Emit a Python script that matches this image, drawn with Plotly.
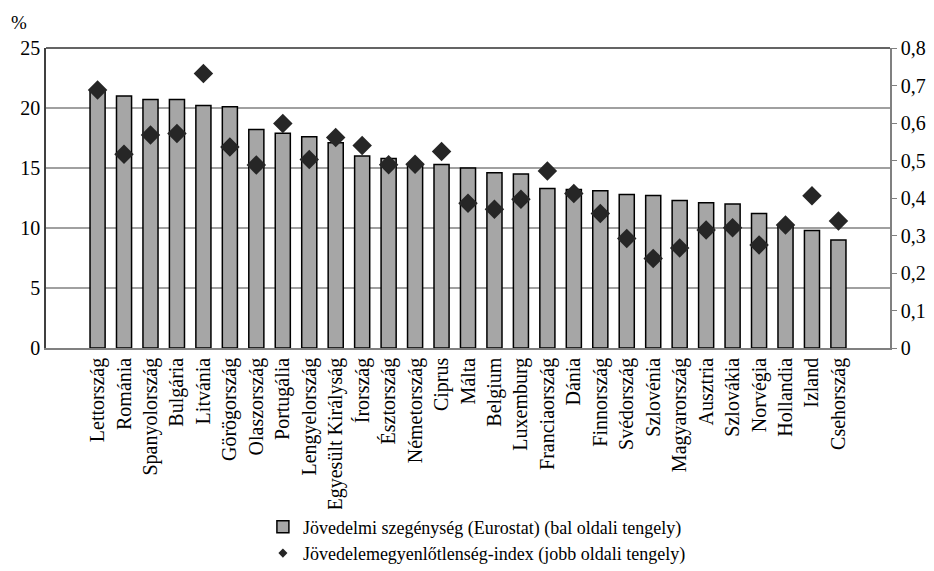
import plotly.graph_objects as go

countries = ["Lettország", "Románia", "Spanyolország", "Bulgária", "Litvánia", "Görögország",
             "Olaszország", "Portugália", "Lengyelország", "Egyesült Királyság", "Írország",
             "Észtország", "Németország", "Ciprus", "Málta", "Belgium", "Luxemburg",
             "Franciaország", "Dánia", "Finnország", "Svédország", "Szlovénia", "Magyarország",
             "Ausztria", "Szlovákia", "Norvégia", "Hollandia", "Izland", "Csehország"]
poverty = [21.5, 21.0, 20.7, 20.7, 20.2, 20.1, 18.2, 17.9, 17.6, 17.1, 16.0, 15.8, 15.3, 15.3,
           15.0, 14.6, 14.5, 13.3, 13.2, 13.1, 12.8, 12.7, 12.3, 12.1, 12.0, 11.2, 10.2, 9.8, 9.0]
inequality = [0.688, 0.517, 0.568, 0.572, 0.732, 0.536, 0.488, 0.599, 0.503, 0.561, 0.540,
              0.489, 0.490, 0.524, 0.386, 0.370, 0.397, 0.472, 0.412, 0.359, 0.292, 0.239,
              0.267, 0.315, 0.321, 0.275, 0.328, 0.406, 0.339]
left_ticks = [0, 5, 10, 15, 20, 25]
right_ticks = [0, 0.1, 0.2, 0.3, 0.4, 0.5, 0.6, 0.7, 0.8]

FONT = "Liberation Serif, Times New Roman, serif"
bar_name = "Jövedelmi szegénység (Eurostat) (bal oldali tengely)"
dot_name = "Jövedelemegyenlőtlenség-index (jobb oldali tengely)"

fig = go.Figure()
fig.add_trace(go.Bar(
    x=countries, y=poverty, name=bar_name,
    marker=dict(color="#a6a6a6", line=dict(color="black", width=1.5)), width=0.57,
))
fig.add_trace(go.Scatter(
    x=countries, y=inequality, yaxis="y2", mode="markers", name=dot_name,
    legendgroup="dots", showlegend=False,
    marker=dict(symbol="diamond", size=15, color="#262626"),
))
# legend-only entry with a smaller diamond, as in the original legend
fig.add_trace(go.Scatter(
    x=[None], y=[None], yaxis="y2", mode="markers", name=dot_name,
    legendgroup="dots", showlegend=True,
    marker=dict(symbol="diamond", size=7, color="#262626"),
))

fig.update_layout(
    width=934, height=571,
    margin=dict(l=46, r=44, t=48, b=223, autoexpand=False),
    paper_bgcolor="white", plot_bgcolor="white",
    separators=", ",
    font=dict(family=FONT, size=20, color="black"),
    showlegend=True,
    legend=dict(x=0.257, y=-0.535, xanchor="left", yanchor="top", orientation="v",
                font=dict(family=FONT, size=18, color="black"), tracegroupgap=0,
                itemwidth=30),
    xaxis=dict(tickangle=-90, tickfont=dict(family=FONT, size=20), showline=True,
               linecolor="#808080", linewidth=1.5, ticks="", showgrid=False,
               automargin=False),
    yaxis=dict(range=[0, 25], tickvals=left_ticks, showgrid=True, gridcolor="#a0a0a0",
               gridwidth=1.5, showline=True, linecolor="#404040", linewidth=1.5,
               ticks="", zeroline=False, tickfont=dict(family=FONT, size=20),
               automargin=False),
    yaxis2=dict(range=[0, 0.8], tickvals=right_ticks, overlaying="y", side="right",
                showgrid=False, showline=True, linecolor="#808080", linewidth=1.5,
                ticks="outside", ticklen=5, tickcolor="#808080", zeroline=False,
                tickfont=dict(family=FONT, size=20), automargin=False),
    shapes=[dict(type="line", xref="paper", yref="paper", x0=0, x1=1, y0=1, y1=1,
                 line=dict(color="#303030", width=1.5))],
    annotations=[dict(text="%", xref="paper", yref="paper", x=-0.044, y=1.045,
                      xanchor="left", yanchor="bottom", showarrow=False,
                      font=dict(family=FONT, size=19))],
    bargap=0.4,
)

fig.write_html("out.html", config={"displayModeBar": False},
               post_script="document.body.style.margin='0';document.body.style.overflow='hidden';")
